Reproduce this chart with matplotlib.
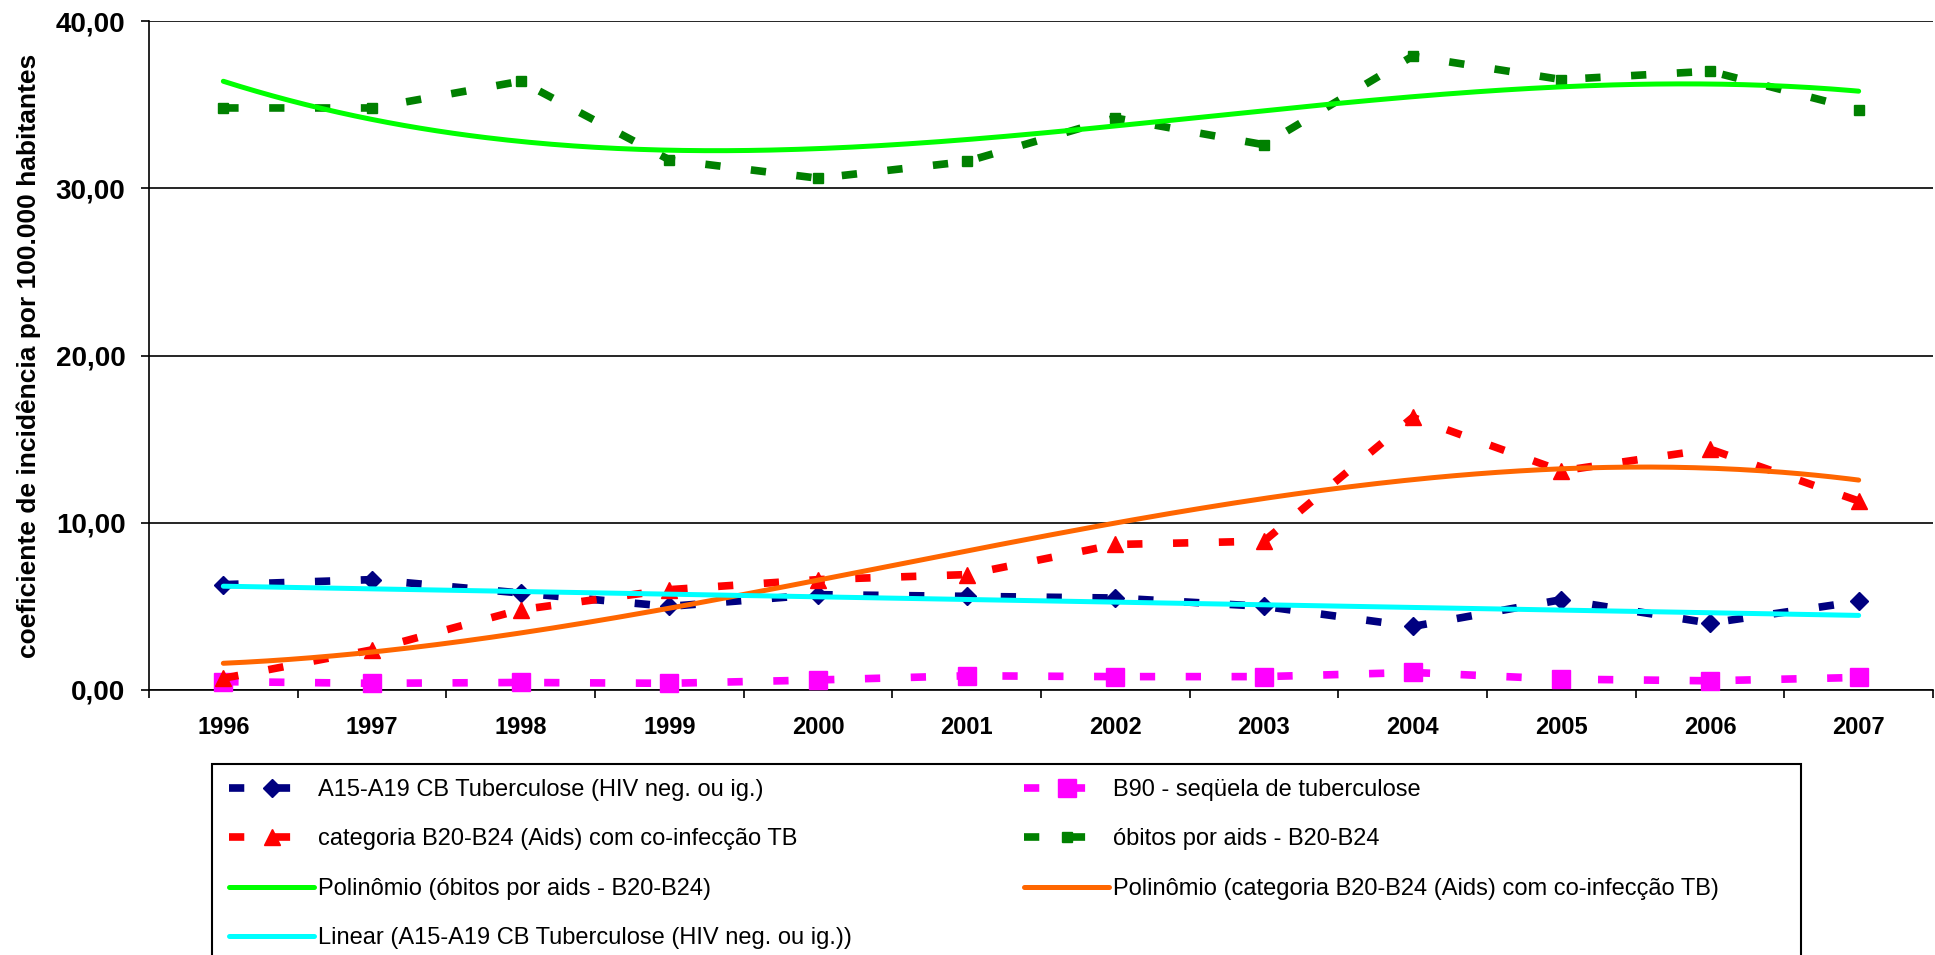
import numpy as np
import matplotlib
matplotlib.use("Agg")
import matplotlib.pyplot as plt
from matplotlib.patches import Rectangle

# ---- data ----
years = ['1996', '1997', '1998', '1999', '2000', '2001',
         '2002', '2003', '2004', '2005', '2006', '2007']
tb_hiv_neg = [6.3, 6.6, 5.8, 5.0, 5.7, 5.6, 5.5, 5.0, 3.8, 5.4, 4.0, 5.3]
b90_sequela = [0.5, 0.4, 0.45, 0.4, 0.6, 0.85, 0.8, 0.8, 1.05, 0.65, 0.55, 0.75]
aids_tb = [0.7, 2.4, 4.8, 6.0, 6.6, 6.9, 8.7, 8.9, 16.3, 13.1, 14.4, 11.3]
obitos_aids = [34.8, 34.8, 36.4, 31.7, 30.6, 31.6, 34.2, 32.6, 37.9, 36.5, 37.0, 34.7]
y_ticks = [0, 10, 20, 30, 40]
y_tick_labels = ['0,00', '10,00', '20,00', '30,00', '40,00']

lbl_tb = 'A15-A19 CB Tuberculose (HIV neg. ou ig.)'
lbl_b90 = 'B90 - seqüela de tuberculose'
lbl_aids_tb = 'categoria B20-B24 (Aids) com co-infecção TB'
lbl_obitos = 'óbitos por aids - B20-B24'
lbl_poly_obitos = 'Polinômio (óbitos por aids - B20-B24)'
lbl_poly_aids = 'Polinômio (categoria B20-B24 (Aids) com co-infecção TB)'
lbl_lin_tb = 'Linear (A15-A19 CB Tuberculose (HIV neg. ou ig.))'
y_label = 'coeficiente de incidência por 100.000 habitantes'

plt.rcParams['font.family'] = ['Liberation Sans', 'DejaVu Sans']

W, H = 1935, 955
fig = plt.figure(figsize=(W / 100, H / 100), dpi=100)
L, R, T, B = 149, 1933, 21, 690
ax = fig.add_axes([L / W, 1 - B / H, (R - L) / W, (B - T) / H])

x = np.arange(len(years))
dash = (0, (2.0, 4.0))
LW = 5.5

styles = [
    dict(data=tb_hiv_neg, color='#000080', marker='D', ms=9.5, label=lbl_tb),
    dict(data=b90_sequela, color='#FF00FF', marker='s', ms=12.5, label=lbl_b90),
    dict(data=aids_tb, color='#FF0000', marker='^', ms=11.5, label=lbl_aids_tb),
    dict(data=obitos_aids, color='#008000', marker='s', ms=7.5, label=lbl_obitos),
]
handles = {}
for s in styles:
    ln, = ax.plot(x, s['data'], color=s['color'], lw=LW, linestyle=dash,
                  marker=s['marker'], ms=s['ms'], mec=s['color'], mfc=s['color'],
                  dash_capstyle='butt', label=s['label'], clip_on=False, zorder=3)
    handles[s['label']] = ln

# trend lines (computed from the data, like the spreadsheet trendlines)
xf = np.arange(1, len(years) + 1)
xs = np.linspace(1, len(years), 300)
p_ob = np.polyfit(xf, obitos_aids, 3)
p_aids = np.polyfit(xf, aids_tb, 3)
p_tb = np.polyfit(xf, tb_hiv_neg, 1)
t1, = ax.plot(xs - 1, np.polyval(p_ob, xs), color='#00FF00', lw=3.6,
              solid_capstyle='round', zorder=4, label=lbl_poly_obitos)
t2, = ax.plot(xs - 1, np.polyval(p_aids, xs), color='#FF6600', lw=3.6,
              solid_capstyle='round', zorder=4, label=lbl_poly_aids)
t3, = ax.plot(xs - 1, np.polyval(p_tb, xs), color='#00FFFF', lw=3.6,
              solid_capstyle='round', zorder=4, label=lbl_lin_tb)

# axes
ax.set_xlim(-0.5, len(years) - 0.5)
ax.set_ylim(0, 40)
ax.set_xticks(x)
ax.set_xticklabels(years, fontsize=17, fontweight='bold')
ax.set_xticks(np.arange(-0.5, len(years)), minor=True)
ax.tick_params(axis='x', which='major', length=0, pad=19)
ax.tick_params(axis='x', which='minor', length=6, width=1.2, direction='out', color='black')
ax.set_yticks(y_ticks)
ax.set_yticklabels(y_tick_labels, fontsize=20, fontweight='bold')
ax.tick_params(axis='y', length=6, width=1.2, pad=11, color='black')
ax.yaxis.grid(True, color='black', lw=1.2)
ax.set_axisbelow(True)
for sp in ['top', 'right']:
    ax.spines[sp].set_visible(False)
for sp in ['left', 'bottom']:
    ax.spines[sp].set_color('black')
    ax.spines[sp].set_linewidth(1.2)

fig.text(29 / W, 1 - 355.5 / H, y_label, rotation=90, ha='center', va='center',
         fontsize=19, fontweight='bold')

# legend box
fig.patches.append(Rectangle((212 / W, -0.05), (1801 - 212) / W, 1 - 764 / H + 0.05,
                             transform=fig.transFigure, fill=False,
                             edgecolor='black', lw=1.5))
col1 = [handles[lbl_tb], handles[lbl_aids_tb], t1, t3]
col2 = [handles[lbl_b90], handles[lbl_obitos], t2]
common = dict(loc='upper left', frameon=False, fontsize=17, borderpad=0,
              handlelength=3.6, handletextpad=0.15, labelspacing=1.16,
              numpoints=1, borderaxespad=0)
fig.legend(handles=col1, labels=[h.get_label() for h in col1],
           bbox_to_anchor=(229 / W, 1 - 779 / H), **common)
fig.legend(handles=col2, labels=[h.get_label() for h in col2],
           bbox_to_anchor=(1024 / W, 1 - 779 / H), **common)

fig.savefig('out.png', dpi=100)
